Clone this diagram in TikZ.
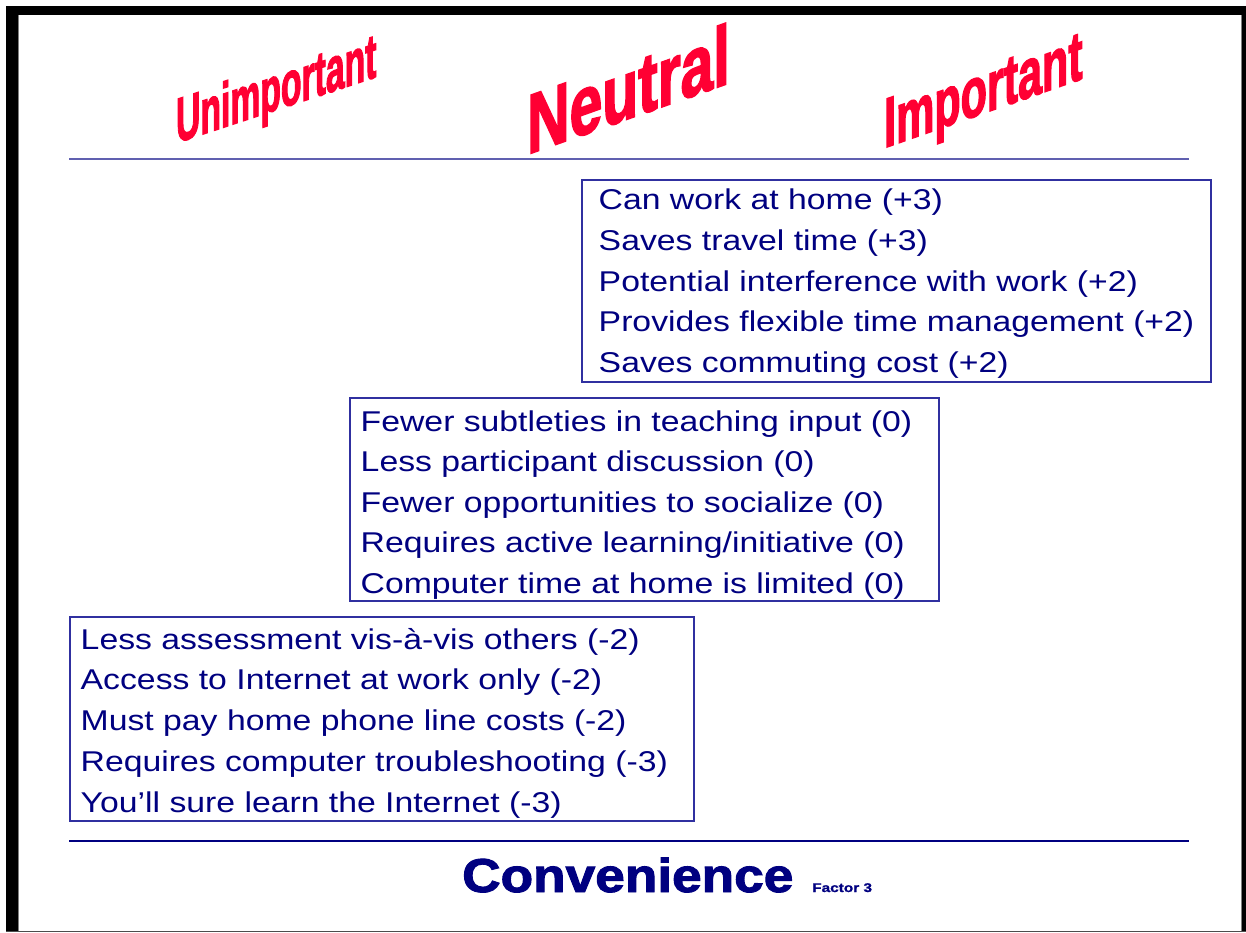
\documentclass[tikz,border=0pt]{standalone}
\usepackage{fontspec}
\setmainfont{Liberation Sans}
\definecolor{navy}{HTML}{000080}
\definecolor{boxblue}{HTML}{3030A0}
\definecolor{rulelight}{HTML}{6060B0}
\definecolor{titlered}{HTML}{FF0033}
\begin{document}
\begin{tikzpicture}[x=1pt,y=-1pt,
  item/.style={anchor=base west, inner sep=0pt, text=navy,
    font=\fontsize{28.6}{34}\selectfont, xscale=1.18},
  itembox/.style={draw=boxblue, line width=1.4pt},
  title/.style={anchor=base west, inner sep=0pt, text=titlered}]
\useasboundingbox (0,0) rectangle (1246,933);
\fill[white] (0,0) rectangle (1246,933);
% frame
\fill[black] (6,6) rectangle (1246,931.5);
\fill[white] (18,15) rectangle (1241,931.5);
\draw[gray, line width=0.8pt] (18,15) -- (18,931.5) -- (1241,931.5) -- (1241,15);
\draw[black!70, line width=1.2pt] (6,931.8) -- (1246,931.8);
% headings
\node[title, cm={0.535,0.1766,0,1,(0,0)}, font=\fontsize{63}{63}\selectfont\bfseries\addfontfeature{FakeBold=2.5}] (unimp) at (176,143) {Unimportant};
\node[title, cm={0.70,0.2478,0,1,(0,0)}, font=\fontsize{84}{84}\selectfont\bfseries\addfontfeature{FakeBold=2.5}] (neutral) at (527,154.5) {Neutral};
\node[title, cm={0.615,0.2153,0,1,(0,0)}, font=\fontsize{70}{70}\selectfont\bfseries\addfontfeature{FakeBold=2.5}] (imp) at (884,148) {Important};
% rules
\draw[rulelight, line width=2pt] (69,159) -- (1189,159);
\draw[navy, line width=1.5pt] (69,841) -- (1189,841);
% boxes
\draw[itembox] (582,180) rectangle (1211,382);
\draw[itembox] (350,398) rectangle (939,601);
\draw[itembox] (70,617) rectangle (694,821);
% box 1
\foreach \t [count=\i from 0] in {Can work at home (+3),Saves travel time (+3),Potential interference with work (+2),Provides flexible time management (+2),Saves commuting cost (+2)}
  \node[item] (a\i) at (598.5,210+40.6*\i) {\t};
% box 2
\foreach \t [count=\i from 0] in {Fewer subtleties in teaching input (0),Less participant discussion (0),Fewer opportunities to socialize (0),Requires active learning/initiative (0),Computer time at home is limited (0)}
  \node[item] (b\i) at (360.5,431+40.6*\i) {\t};
% box 3
\foreach \t [count=\i from 0] in {Less assessment vis-à-vis others (-2),Access to Internet at work only (-2),Must pay home phone line costs (-2),Requires computer troubleshooting (-3),You’ll sure learn the Internet (-3)}
  \node[item] (c\i) at (80.5,649+40.8*\i) {\t};
% footer
\node[anchor=base west, inner sep=0pt, text=navy, xscale=1.12, font=\fontsize{47.5}{48}\selectfont\bfseries\addfontfeature{FakeBold=2}] (conv) at (462,892) {Convenience};
\node[anchor=base west, inner sep=0pt, text=navy, xscale=1.22, font=\fontsize{12.6}{13}\selectfont\bfseries\addfontfeature{FakeBold=1}] (factor) at (812,892) {Factor 3};
\end{tikzpicture}
\end{document}
